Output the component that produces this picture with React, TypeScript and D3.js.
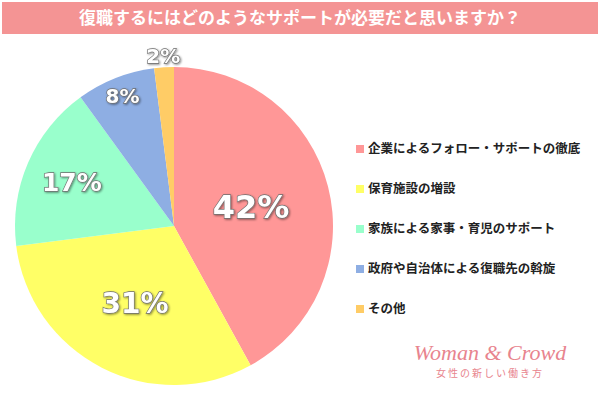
import { useEffect, useRef } from "react";
import * as d3 from "d3";

const title = "復職するにはどのようなサポートが必要だと思いますか？";
const categories = [
  "企業によるフォロー・サポートの徹底",
  "保育施設の増設",
  "家族による家事・育児のサポート",
  "政府や自治体による復職先の斡旋",
  "その他",
];
const values = [42, 31, 17, 8, 2];
const colors = ["#ff9797", "#ffff66", "#99ffcc", "#8eaee3", "#ffcc66"];

const width = 600;
const height = 396;

const App = () => {
  const svgRef = useRef<SVGSVGElement>(null);

  useEffect(() => {
    const svg = d3.select(svgRef.current);
    svg.selectAll("*").remove();

    const defs = svg.append("defs");
    const shadow = defs.append("filter").attr("id", "lblShadow")
      .attr("x", "-20%").attr("y", "-20%").attr("width", "140%").attr("height", "140%");
    shadow.append("feDropShadow")
      .attr("dx", 1).attr("dy", 1).attr("stdDeviation", 0.8)
      .attr("flood-color", "#000").attr("flood-opacity", 0.45);

    // title bar
    svg.append("rect")
      .attr("x", 2).attr("y", 2)
      .attr("width", width - 4).attr("height", 32)
      .attr("fill", "#f49494");
    svg.append("text")
      .attr("x", width / 2).attr("y", 24)
      .attr("text-anchor", "middle")
      .attr("fill", "#fff")
      .attr("font-family", "'Noto Sans CJK JP', sans-serif")
      .attr("font-weight", 700)
      .attr("font-size", 17)
      .text(title);

    const cx = 174, cy = 226, r = 159;
    const data = categories.map((c, i) => ({ name: c, value: values[i] }));
    const pie = d3.pie<{ name: string; value: number }>()
      .value((d) => d.value)
      .sort(null);
    const arcs = pie(data);
    const arc = d3.arc<d3.PieArcDatum<{ name: string; value: number }>>()
      .innerRadius(0)
      .outerRadius(r);

    const g = svg.append("g").attr("transform", `translate(${cx},${cy})`);
    g.selectAll("path")
      .data(arcs)
      .join("path")
      .attr("d", arc)
      .attr("fill", (_, i) => colors[i]);

    // label placement: bigger slices sit nearer the centre, smallest outside
    const labelRadius = [0.5, 0.54, 0.7, 0.88, 1.07];
    const labelSize = [32, 28, 25, 20, 20];
    g.selectAll("text.lbl")
      .data(arcs)
      .join("text")
      .attr("class", "lbl")
      .attr("transform", (d, i) => {
        const la = d3.arc<any>().innerRadius(r * labelRadius[i]).outerRadius(r * labelRadius[i]);
        const [x, y] = la.centroid(d);
        return `translate(${x},${y})`;
      })
      .attr("text-anchor", "middle")
      .attr("dy", "0.36em")
      .attr("font-family", "'DejaVu Sans', Verdana, sans-serif")
      .attr("font-weight", 700)
      .attr("font-size", (_, i) => labelSize[i])
      .attr("fill", "#fff")
      .attr("stroke", "#6e6e6e")
      .attr("stroke-width", 1.3)
      .attr("paint-order", "stroke")
      .attr("filter", "url(#lblShadow)")
      .text((d) => `${d.data.value}%`);

    // legend
    const legend = svg.append("g").attr("transform", "translate(356,148)");
    const row = legend.selectAll("g")
      .data(categories)
      .join("g")
      .attr("transform", (_, i) => `translate(0,${i * 40})`);
    row.append("rect")
      .attr("x", 0).attr("y", -3)
      .attr("width", 8).attr("height", 8)
      .attr("fill", (_, i) => colors[i]);
    row.append("text")
      .attr("x", 12).attr("y", 5)
      .attr("font-family", "'Noto Sans CJK JP', sans-serif")
      .attr("font-weight", 700)
      .attr("font-size", 12.5)
      .attr("fill", "#222")
      .text((d) => d);

    // logo
    svg.append("text")
      .attr("x", 490).attr("y", 360)
      .attr("text-anchor", "middle")
      .attr("font-family", "'Liberation Serif', serif")
      .attr("font-style", "italic")
      .attr("font-size", 22)
      .attr("fill", "#e8848e")
      .text("Woman & Crowd");
    svg.append("text")
      .attr("x", 490).attr("y", 377)
      .attr("text-anchor", "middle")
      .attr("font-family", "'Noto Sans CJK JP', sans-serif")
      .attr("font-size", 10)
      .attr("letter-spacing", 2)
      .attr("fill", "#e8848e")
      .text("女性の新しい働き方");
  }, []);

  return (
    <svg
      ref={svgRef}
      width={width}
      height={height}
      style={{ position: "absolute", left: 0, top: 0, background: "#fff" }}
    />
  );
};

export default App;
